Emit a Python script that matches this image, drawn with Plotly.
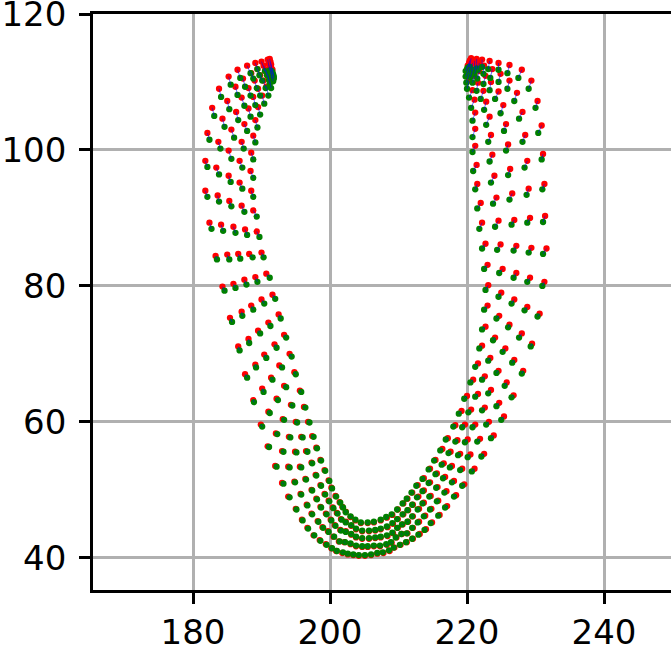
import plotly.graph_objects as go

x_ticks = [180, 200, 220, 240]
y_ticks = [40, 60, 80, 100, 120]

red_x = [
 191.2,191.3,191.4,191.4,191.6, 190.9,191.0,191.2,191.3,191.4, 190.0,190.3,190.6,190.9,191.2,
 189.1,189.4,189.8,190.3,190.7, 187.9,188.5,189.0,189.5,190.1, 186.5,187.3,188.1,188.8,189.5,
 185.2,186.2,187.1,188.1,189.1, 183.8,185.0,186.3,187.5,188.8, 182.8,184.3,185.6,187.1,188.5,
 182.1,183.7,185.2,186.8,188.4, 181.8,183.4,185.2,186.8,188.5, 181.8,183.6,185.3,187.1,188.8,
 182.4,184.1,185.9,187.6,189.3, 183.3,185.0,186.6,188.2,190.0, 184.3,185.9,187.5,189.1,190.7,
 185.4,187.1,188.5,190.0,191.6, 186.6,188.1,189.5,191.0,192.5, 187.6,189.1,190.4,191.9,193.3,
 188.8,190.1,191.4,192.6,194.1, 189.9,191.0,192.2,193.3,194.8, 190.9,192.1,193.1,194.3,195.6,
 192.0,193.0,194.0,195.0,196.2, 193.0,193.9,194.9,195.8,196.8, 193.9,194.8,195.6,196.5,197.4,
 195.0,195.7,196.4,197.3,198.0, 195.9,196.6,197.3,197.9,198.6, 196.7,197.3,198.0,198.6,199.2,
 197.6,198.2,198.6,199.2,199.8, 198.5,198.9,199.4,199.8,200.2, 199.4,199.7,200.1,200.4,200.8,
 200.2,200.5,200.7,201.0,201.4, 200.9,201.3,201.5,201.6,201.8, 201.8,202.1,202.3,202.3,202.3,
 202.6,203.0,203.1,203.1,203.0, 203.4,203.8,203.8,203.8,203.7, 204.2,204.7,204.7,204.7,204.5,
 205.1,205.5,205.7,205.7,205.5, 206.0,206.4,206.6,206.6,206.4, 206.9,207.3,207.4,207.4,207.4,
 207.8,208.3,208.4,208.4,208.3, 208.7,209.0,209.2,209.2,209.1, 209.4,209.7,209.9,209.9,209.9,
 210.3,210.5,210.6,210.7,210.7, 211.2,211.3,211.4,211.4,211.3, 212.1,212.1,212.1,212.1,212.0,
 213.1,213.0,213.0,212.9,212.8, 214.0,213.9,213.7,213.7,213.7, 214.9,214.8,214.7,214.6,214.6,
 216.0,215.8,215.7,215.6,215.4, 217.1,217.0,216.8,216.6,216.4, 218.4,218.1,217.8,217.6,217.2,
 219.6,219.3,219.0,218.6,218.3, 221.1,220.5,220.1,219.7,219.2, 222.5,221.9,221.2,220.6,220.0,
 223.9,223.2,222.6,221.6,220.9, 225.4,224.7,223.5,222.6,221.6, 222.2,223.4,224.6,225.8,226.8,
 222.7,224.1,225.6,226.9,228.2, 223.0,224.7,226.2,228.0,229.5, 223.1,225.0,226.9,228.8,230.6,
 223.0,225.2,227.2,229.2,231.3, 222.7,224.9,227.2,229.4,231.6, 222.2,224.6,226.9,229.2,231.4,
 222.0,224.3,226.6,229.0,231.3, 221.5,224.0,226.3,228.8,231.1, 221.4,223.7,226.0,228.5,230.9,
 221.2,223.5,225.7,228.1,230.3, 221.2,223.3,225.3,227.3,229.4, 221.2,222.8,224.6,226.2,228.0,
 221.1,222.4,223.5,224.9,226.2, 220.8,221.6,222.7,223.7,224.6, 220.3,221.1,221.8,222.5,223.3,
 220.3,220.8,221.4,221.8,222.2, 220.2,220.5,220.8,221.1,221.4, 220.1,220.3,220.4,220.5,220.6,
]
red_y = [
 113.4,113.0,112.6,112.2,111.8, 113.3,112.7,112.1,111.5,110.9, 113.0,112.4,111.8,111.1,110.3,
 112.8,111.9,111.0,110.2,109.3, 112.4,111.3,110.2,109.0,108.0, 111.8,110.5,109.1,107.8,106.3,
 110.8,109.3,107.7,106.1,104.4, 109.0,107.2,105.6,103.8,102.1, 106.2,104.6,103.0,101.2,99.6,
 102.5,101.2,99.9,98.4,96.9, 98.4,97.4,96.2,95.2,94.0, 94.0,93.3,92.5,91.8,91.1,
 89.3,89.0,88.7,88.3,88.0, 84.4,84.6,84.7,84.7,84.9, 79.9,80.3,80.9,81.3,81.8,
 75.3,76.2,77.1,78.0,78.7, 71.1,72.2,73.4,74.6,75.8, 67.0,68.4,69.9,71.4,72.8,
 63.2,64.9,66.5,68.3,70.0, 59.6,61.5,63.4,65.3,67.3, 56.4,58.3,60.4,62.5,64.6,
 53.5,55.7,57.8,60.0,62.2, 51.0,53.4,55.6,57.8,60.0, 49.0,51.2,53.4,55.7,57.9,
 47.2,49.4,51.6,54.0,56.2, 45.6,47.8,50.0,52.2,54.4, 44.4,46.5,48.7,50.7,52.9,
 43.3,45.4,47.5,49.4,51.4, 42.6,44.5,46.5,48.4,50.3, 42.0,43.9,45.6,47.4,49.1,
 41.4,43.1,44.8,46.6,48.2, 41.0,42.4,44.1,45.7,47.5, 40.7,42.3,43.9,45.3,46.8,
 40.5,42.0,43.4,44.7,46.0, 40.4,41.7,43.0,44.2,45.5, 40.3,41.6,42.8,43.9,45.1,
 40.3,41.6,42.8,43.9,45.1, 40.4,41.7,42.9,44.0,45.2, 40.6,41.7,43.0,44.2,45.5,
 40.7,41.9,43.2,44.5,45.9, 41.0,42.2,43.6,45.0,46.3, 41.5,43.0,44.4,45.7,47.1,
 41.9,43.5,44.9,46.4,48.0, 42.3,43.6,45.3,47.0,48.7, 42.8,44.4,46.1,47.8,49.6,
 43.5,45.3,47.2,49.0,50.7, 44.2,46.2,48.1,49.9,51.7, 45.2,47.2,49.1,51.1,53.1,
 46.3,48.4,50.4,52.4,54.4, 47.6,49.8,51.9,53.9,56.0, 49.2,51.3,53.5,55.6,57.6,
 50.8,53.1,55.3,57.3,59.5, 53.1,55.2,57.4,59.6,61.6, 55.3,57.5,59.6,61.8,63.8,
 58.0,60.0,62.1,64.1,66.2, 60.8,62.8,64.7,66.7,68.6, 71.2,69.4,67.5,65.8,63.9,
 74.0,72.4,70.8,69.1,67.5, 77.1,75.6,74.3,73.0,71.5, 80.1,79.0,78.0,76.9,75.9,
 83.1,82.5,81.9,81.2,80.6, 86.2,86.1,85.9,85.6,85.5, 89.3,89.6,89.7,90.0,90.3,
 92.2,93.0,93.6,94.3,95.0, 95.0,96.2,97.2,98.4,99.4, 97.8,99.3,100.8,102.2,103.6,
 100.6,102.2,103.8,105.6,107.2, 103.1,104.9,106.6,108.4,110.2, 105.5,107.1,108.6,110.2,111.8,
 107.4,108.7,110.0,111.2,112.5, 108.8,109.9,110.9,111.9,112.8, 110.2,110.9,111.6,112.4,113.1,
 111.2,111.8,112.3,112.8,113.3, 111.9,112.4,112.8,113.1,113.4, 112.4,112.8,113.1,113.3,113.5,
]
green_x = [
 191.5,191.6,191.7,191.8,191.8, 191.2,191.4,191.5,191.6,191.7, 190.5,190.8,191.1,191.2,191.4,
 189.4,189.7,190.1,190.6,191.0, 188.4,188.8,189.3,189.8,190.4, 186.9,187.6,188.4,189.1,189.8,
 185.5,186.5,187.5,188.4,189.4, 184.1,185.3,186.6,187.9,189.1, 183.1,184.6,186.0,187.4,188.8,
 182.4,184.0,185.6,187.2,188.8, 182.1,183.8,185.5,187.2,188.8, 182.1,183.8,185.6,187.5,189.3,
 182.7,184.4,186.2,187.9,189.7, 183.5,185.3,186.9,188.7,190.3, 184.6,186.2,187.8,189.4,191.2,
 185.7,187.2,188.8,190.4,192.0, 186.8,188.2,189.8,191.3,192.8, 187.9,189.2,190.7,192.2,193.6,
 188.9,190.3,191.6,193.0,194.4, 190.1,191.2,192.4,193.6,195.0, 191.1,192.3,193.3,194.5,195.8,
 192.2,193.2,194.2,195.2,196.4, 193.2,194.1,195.1,196.0,197.0, 194.1,194.9,195.8,196.7,197.6,
 195.1,195.8,196.5,197.4,198.1, 196.0,196.7,197.4,198.0,198.7, 196.8,197.4,198.1,198.7,199.3,
 197.7,198.3,198.7,199.3,199.9, 198.6,199.0,199.5,199.9,200.3, 199.5,199.8,200.2,200.5,200.9,
 200.3,200.6,200.8,201.1,201.5, 201.0,201.4,201.6,201.7,201.9, 201.9,202.2,202.3,202.3,202.3,
 202.6,203.0,203.1,203.1,203.0, 203.4,203.8,203.8,203.8,203.7, 204.2,204.7,204.7,204.7,204.5,
 205.1,205.5,205.7,205.7,205.5, 206.0,206.4,206.6,206.6,206.4, 206.9,207.3,207.4,207.4,207.4,
 207.7,208.2,208.3,208.3,208.2, 208.6,208.9,209.1,209.1,209.0, 209.3,209.6,209.8,209.8,209.8,
 210.2,210.4,210.5,210.6,210.6, 211.1,211.2,211.3,211.3,211.2, 212.0,212.0,212.0,212.0,211.9,
 212.9,212.8,212.8,212.7,212.6, 213.8,213.7,213.5,213.5,213.5, 214.7,214.6,214.5,214.4,214.4,
 215.8,215.6,215.5,215.4,215.2, 216.8,216.7,216.5,216.3,216.1, 218.1,217.8,217.5,217.3,216.9,
 219.3,219.0,218.7,218.3,218.0, 220.7,220.1,219.7,219.3,218.8, 222.1,221.5,220.8,220.2,219.6,
 223.5,222.8,222.2,221.2,220.5, 225.0,224.3,223.1,222.2,221.2, 221.8,223.1,224.3,225.5,226.5,
 222.2,223.8,225.2,226.6,228.0, 222.5,224.3,226.0,227.6,229.3, 222.7,224.6,226.5,228.4,230.3,
 222.5,224.7,226.8,228.8,231.0, 222.2,224.4,226.8,229.0,231.1, 221.8,224.1,226.5,228.8,231.1,
 221.5,223.8,226.2,228.7,231.0, 221.2,223.5,226.0,228.4,230.9, 220.9,223.3,225.7,228.1,230.4,
 220.8,223.1,225.4,227.6,230.0, 220.8,222.8,224.9,226.9,229.0, 220.8,222.5,224.1,225.9,227.5,
 220.6,222.0,223.3,224.6,225.9, 220.3,221.4,222.4,223.4,224.6, 220.0,220.8,221.5,222.4,223.1,
 219.9,220.5,221.1,221.6,222.2, 219.8,220.3,220.7,221.1,221.4, 219.8,220.0,220.1,220.3,220.4,
]
green_y = [
 111.6,111.4,111.1,110.8,110.5, 111.7,111.4,111.0,110.5,110.1, 111.6,111.0,110.3,109.7,109.1,
 111.9,111.0,110.2,109.1,108.0, 111.3,110.5,109.1,108.0,106.8, 110.6,109.3,108.0,106.6,105.2,
 109.6,108.1,106.5,104.9,103.3, 107.8,106.0,104.4,102.8,101.1, 105.0,103.4,101.8,100.2,98.6,
 101.5,100.2,98.7,97.4,95.9, 97.5,96.4,95.3,94.3,93.1, 93.1,92.4,91.7,90.9,90.2,
 88.4,88.1,87.8,87.5,87.2, 83.9,83.9,84.0,84.2,84.2, 79.3,79.7,80.2,80.6,81.2,
 74.7,75.6,76.5,77.4,78.1, 70.5,71.6,73.0,74.1,75.2, 66.5,68.0,69.4,70.9,72.4,
 62.9,64.4,66.2,68.0,69.6, 59.3,61.3,63.2,65.1,67.0, 56.3,58.2,60.3,62.4,64.4,
 53.4,55.6,57.7,59.9,62.1, 50.9,53.3,55.5,57.7,59.9, 48.9,51.1,53.3,55.6,57.8,
 47.1,49.3,51.5,53.9,56.1, 45.5,47.7,49.9,52.1,54.3, 44.3,46.4,48.6,50.6,52.8,
 43.3,45.3,47.4,49.3,51.3, 42.5,44.4,46.4,48.3,50.2, 41.9,43.8,45.5,47.3,49.0,
 41.4,43.1,44.7,46.5,48.1, 41.0,42.4,44.0,45.6,47.4, 40.8,42.3,43.8,45.2,46.7,
 40.6,42.1,43.5,44.8,46.1, 40.5,41.8,43.1,44.3,45.6, 40.4,41.7,42.9,44.0,45.2,
 40.4,41.7,42.9,44.0,45.2, 40.5,41.8,43.0,44.1,45.3, 40.7,41.8,43.1,44.3,45.6,
 40.8,42.0,43.3,44.6,46.0, 41.1,42.3,43.7,45.1,46.4, 41.5,43.0,44.4,45.7,47.1,
 41.9,43.5,44.9,46.4,48.0, 42.3,43.6,45.3,47.0,48.7, 42.8,44.4,46.1,47.8,49.6,
 43.4,45.2,47.1,48.9,50.6, 44.1,46.1,48.0,49.8,51.6, 45.1,47.1,49.0,51.0,53.0,
 46.2,48.3,50.3,52.3,54.3, 47.4,49.6,51.7,53.7,55.8, 49.0,51.1,53.3,55.4,57.4,
 50.6,52.9,55.1,57.1,59.3, 52.7,54.8,57.0,59.2,61.2, 54.9,57.1,59.2,61.4,63.4,
 57.6,59.6,61.7,63.7,65.8, 60.3,62.3,64.2,66.2,68.1, 70.8,69.0,67.2,65.3,63.6,
 73.6,72.0,70.3,68.7,67.1, 76.5,75.2,73.9,72.4,71.1, 79.4,78.4,77.4,76.4,75.5,
 82.5,81.9,81.2,80.6,80.0, 85.5,85.3,85.2,84.9,84.7, 88.4,88.7,89.0,89.3,89.4,
 91.4,92.1,92.7,93.4,94.2, 94.2,95.2,96.3,97.4,98.6, 96.9,98.3,99.9,101.2,102.5,
 99.7,101.2,102.8,104.6,106.2, 101.9,103.7,105.4,107.2,109.0, 104.3,105.9,107.5,109.0,110.6,
 106.2,107.5,108.8,110.0,111.3, 107.7,108.7,109.7,110.6,111.8, 109.0,109.9,110.5,111.2,111.9,
 109.9,110.7,111.2,111.8,112.2, 110.8,111.3,111.6,111.8,112.0, 111.6,111.9,112.1,112.2,112.2,
]

link_x, link_y = [], []
for a, b, c, d in zip(red_x, red_y, green_x, green_y):
    link_x += [a, c, None]
    link_y += [b, d, None]

fig = go.Figure()
fig.add_trace(go.Scatter(x=red_x, y=red_y, mode="markers",
                         marker=dict(color="#ff0000", size=6.3, line=dict(width=0))))
fig.add_trace(go.Scatter(x=green_x, y=green_y, mode="markers",
                         marker=dict(color="#008000", size=6.3, line=dict(width=0))))
fig.add_trace(go.Scatter(x=link_x, y=link_y, mode="lines",
                         line=dict(color="#0000ff", width=0.8), opacity=0.7))

axis_style = dict(showgrid=True, gridcolor="#b0b0b0", gridwidth=3, zeroline=False,
                  showline=True, linecolor="black", linewidth=2.7,
                  ticks="outside", ticklen=11, tickwidth=2.7, tickcolor="black",
                  ticklabeloverflow="allow", automargin=False,
                  tickfont=dict(family="DejaVu Sans", size=34, color="black"))
fig.update_xaxes(range=[165.40, 249.78], tickvals=x_ticks, mirror=True, ticklabelstandoff=-1, **axis_style)
fig.update_yaxes(range=[35.26, 120.0], tickvals=y_ticks, ticklabelstandoff=6, **axis_style)
fig.update_layout(width=671, height=649, showlegend=False,
                  paper_bgcolor="white", plot_bgcolor="white",
                  margin=dict(l=93, r=0, t=14, b=59.3, pad=0, autoexpand=False))
fig.write_html("out.html", config={"displayModeBar": False},
               post_script="document.body.style.margin='0';document.documentElement.style.overflow='hidden';")
